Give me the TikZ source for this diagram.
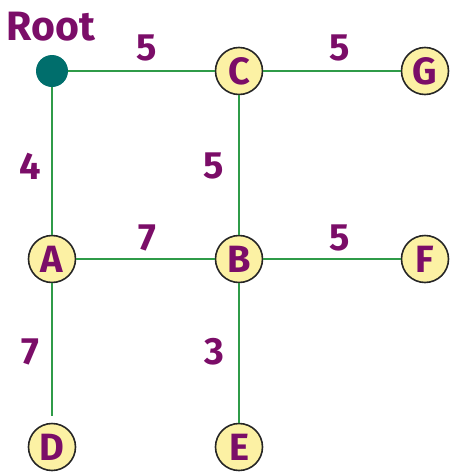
\documentclass[tikz,border=0pt]{standalone}
\usepackage{fontspec}
\setmainfont{Fira Sans}
\begin{document}
\begin{tikzpicture}[x=1pt,y=-1pt,
  edge/.style={draw=edgegreen,line width=2.8pt},
  vtx/.style={circle,draw=black!85,line width=1.6pt,fill=vtxfill,minimum size=47pt,inner sep=0pt,
    text=labelpurple,font=\fontsize{38}{38}\selectfont\bfseries},
  rootvtx/.style={circle,fill=rootteal,minimum size=32pt,inner sep=0pt},
  weight/.style={text=labelpurple,font=\fontsize{38}{38}\selectfont\bfseries,inner sep=0pt}]
\definecolor{edgegreen}{HTML}{2F9B48}
\definecolor{vtxfill}{HTML}{FCF1A4}
\definecolor{labelpurple}{HTML}{7B0D68}
\definecolor{rootteal}{HTML}{006E6C}
\useasboundingbox (0,0) rectangle (451,472);
% vertices
\node[rootvtx] (root) at (52,71) {};
\node[vtx] (C) at (239,71) {C};
\node[vtx] (G) at (425,71) {G};
\node[vtx] (A) at (52,259) {A};
\node[vtx] (B) at (239,259) {B};
\node[vtx] (F) at (425,259) {F};
\node[vtx] (D) at (52,447) {D};
\node[vtx] (E) at (239,447) {E};
\node[text=labelpurple,font=\fontsize{41}{41}\selectfont\bfseries,inner sep=0pt] (rootlabel) at (51,27) {Root};
% edges
\draw[edge] (root) -- (C);
\draw[edge] (C) -- (G);
\draw[edge] (root) -- (A);
\draw[edge] (C) -- (B);
\draw[edge] (A) -- (B);
\draw[edge] (B) -- (F);
\draw[edge,shorten >=7pt] (A) -- (D);
\draw[edge] (B) -- (E);
% weights
\node[weight] (w1) at (147,48) {5};
\node[weight] (w2) at (340,48) {5};
\node[weight] (w3) at (30,166) {4};
\node[weight] (w4) at (214,166) {5};
\node[weight] (w5) at (147,238) {7};
\node[weight] (w6) at (340,238) {5};
\node[weight] (w7) at (30,352) {7};
\node[weight] (w8) at (214,352) {3};
\end{tikzpicture}
\end{document}
